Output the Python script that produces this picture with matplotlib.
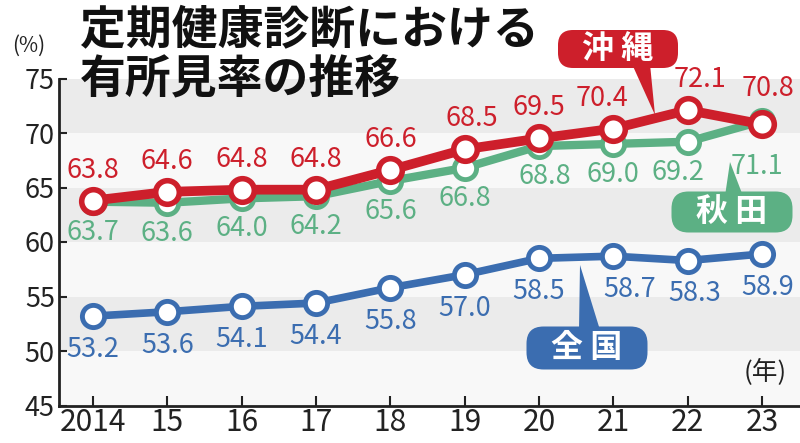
import matplotlib
matplotlib.use('Agg')
import matplotlib.pyplot as plt
from matplotlib.patches import FancyBboxPatch, Polygon
from matplotlib.transforms import IdentityTransform

plt.rcParams['font.family'] = ['Noto Sans CJK JP', 'DejaVu Sans']

years = [2014, 2015, 2016, 2017, 2018, 2019, 2020, 2021, 2022, 2023]
year_labels = ['2014', '15', '16', '17', '18', '19', '20', '21', '22', '23']
okinawa = [63.8, 64.6, 64.8, 64.8, 66.6, 68.5, 69.5, 70.4, 72.1, 70.8]
akita = [63.7, 63.6, 64.0, 64.2, 65.6, 66.8, 68.8, 69.0, 69.2, 71.1]
zenkoku = [53.2, 53.6, 54.1, 54.4, 55.8, 57.0, 58.5, 58.7, 58.3, 58.9]

RED = '#cd1f2b'
GREEN = '#5cb084'
BLUE = '#3b6db0'

W, H = 800, 443
fig = plt.figure(figsize=(W / 100, H / 100), dpi=100)
fig.patch.set_facecolor('white')
ax = fig.add_axes([59 / W, (H - 405.5) / H, 741 / W, 327 / H])
ax.set_xlim(2014 - 34 / 74.4, 2023 + 38 / 74.4)
ax.set_ylim(45, 75)
ax.set_facecolor('#f8f8f8')

# 縞模様の背景
for lo in (50, 60, 70):
    ax.axhspan(lo, lo + 5, color='#ebebeb', lw=0, zorder=0)

for s in ('top', 'right'):
    ax.spines[s].set_visible(False)
for s in ('left', 'bottom'):
    ax.spines[s].set_linewidth(2)
    ax.spines[s].set_color('#222222')

ax.set_xticks(years)
ax.set_xticklabels(year_labels)
ax.set_yticks(range(45, 76, 5))
ax.tick_params(axis='x', direction='in', length=7, width=1.5, labelsize=21.5, pad=1, colors='#222222')
ax.tick_params(axis='y', direction='in', length=6, width=1.5, labelsize=19.5, pad=3, colors='#222222')

line_kw = dict(marker='o', markerfacecolor='white', solid_capstyle='round')
ax.plot(years, zenkoku, color=BLUE, lw=5.5, markersize=16, mew=3.5, zorder=3, **line_kw)
ax.plot(years, akita, color=GREEN, lw=6, markersize=16, mew=3.5, zorder=4, **line_kw)
ax.plot(years, okinawa, color=RED, lw=7, markersize=17, mew=4, zorder=5, **line_kw)

# 数値ラベル (x方向の微調整)
nudge_red = {2019: 5, 2021: -8, 2022: 9, 2023: 4}
nudge_green = {2020: 4, 2022: -7, 2023: -4}
nudge_blue = {2021: 12, 2022: 5, 2023: 4}
for i, yr in enumerate(years):
    dy = 26 if yr == 2023 else 22
    ax.annotate(f'{okinawa[i]:.1f}', (yr, okinawa[i]), xytext=(nudge_red.get(yr, 0), dy),
                textcoords='offset points', ha='center', va='center', fontsize=19.5, color=RED, zorder=6)
    dy = -33 if yr == 2023 else -22
    ax.annotate(f'{akita[i]:.1f}', (yr, akita[i]), xytext=(nudge_green.get(yr, 0), dy),
                textcoords='offset points', ha='center', va='center', fontsize=19.5, color=GREEN, zorder=6)
    ax.annotate(f'{zenkoku[i]:.1f}', (yr, zenkoku[i]), xytext=(nudge_blue.get(yr, 0), -24),
                textcoords='offset points', ha='center', va='center', fontsize=19.5, color=BLUE, zorder=6)

# タイトル
fig.text(80 / W, 1 - 30 / H, '定期健康診断における', fontsize=33, fontweight='bold',
         ha='left', va='center', color='#111111')
fig.text(80 / W, 1 - 80 / H, '有所見率の推移', fontsize=33, fontweight='bold',
         ha='left', va='center', color='#111111')
fig.text(29 / W, 1 - 46 / H, '(%)', fontsize=15, ha='center', va='center', color='#222222')
fig.text(765 / W, 1 - 372 / H, '(年)', fontsize=18.5, ha='center', va='center', color='#222222')


def callout(cx, cy, w, h, base, tip, label, color):
    # ピクセル座標(左上原点)で吹き出しを描く
    box = FancyBboxPatch((cx - w / 2, H - cy - h / 2), w, h,
                         boxstyle='round,pad=0,rounding_size=%d' % (h // 2.4),
                         fc=color, ec='none', transform=IdentityTransform(), zorder=10)
    fig.add_artist(box)
    pts = [(base[0], H - base[1]), (base[2], H - base[1]), (tip[0], H - tip[1])]
    fig.add_artist(Polygon(pts, closed=True, fc=color, ec='none',
                           transform=IdentityTransform(), zorder=10))
    fig.text(cx / W, 1 - cy / H, label, fontsize=23, fontweight='bold', color='white',
             ha='center', va='center', zorder=11)


callout(618, 49, 120, 38, (632, 64, 650), (655, 115), '沖 縄', RED)
callout(732, 212, 121, 41, (725, 196, 743), (730, 162), '秋 田', GREEN)
callout(587, 348, 121, 43, (579, 330, 600), (580, 265), '全 国', BLUE)

fig.savefig('out.png', dpi=100, facecolor=fig.get_facecolor())
